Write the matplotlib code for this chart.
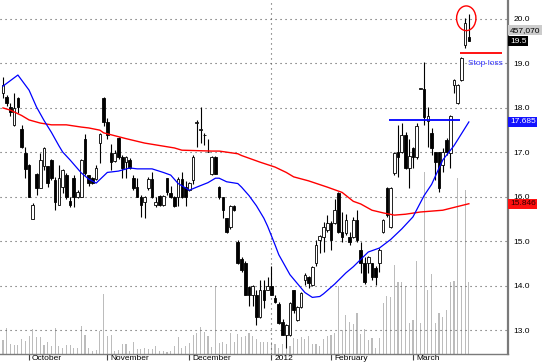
import numpy as np
import matplotlib
matplotlib.use('Agg')
import matplotlib.pyplot as plt
import matplotlib.transforms as mtransforms
from matplotlib.patches import Ellipse

plt.rcParams['font.family'] = ['Liberation Sans', 'DejaVu Sans']

# daily candles, late Sep 2011 .. mid Mar 2012
opens = [18.34, 18.25, 18.02, 17.62, 18.22, 17.53, 16.99, 16.72, 15.50, 16.51,
         16.20, 16.69, 16.69, 16.83, 16.38, 15.82, 16.22, 16.49, 15.91, 16.42,
         16.00, 16.00, 17.30, 16.49, 16.42, 16.40, 17.21, 18.22, 17.68, 16.99,
         16.81, 17.32, 16.90, 16.78, 16.83, 16.42, 16.22, 16.00, 15.89, 16.20,
         16.40, 15.82, 16.02, 15.82, 16.42, 16.09, 16.00, 16.00, 16.40, 16.22,
         16.15, 16.38, 17.66, 17.50, 17.39, 17.02, 16.51, 16.90, 16.22, 16.00,
         15.53, 15.32, 15.80, 14.99, 14.60, 14.51, 13.97, 13.79, 13.79, 13.30,
         13.91, 13.91, 14.00, 13.73, 13.59, 13.19, 12.89, 12.89, 13.91, 13.23,
         13.52, 14.13, 14.20, 14.02, 14.51, 15.03, 15.10, 15.26, 15.41, 15.41,
         16.09, 15.21, 15.19, 15.10, 15.10, 15.48, 14.81, 14.51, 14.51, 14.51,
         14.40, 14.51, 15.21, 16.20, 15.32, 16.54, 17.01, 17.01, 17.39, 16.65,
         17.10, 16.90, 18.43, 18.43, 17.71, 17.44, 17.01, 17.01, 16.72, 17.28,
         16.99, 18.52, 18.11, 18.63, 19.42, 19.60]
highs = [18.70, 18.30, 18.11, 18.34, 18.25, 17.62, 17.12, 16.75, 15.86, 16.54,
         16.99, 17.12, 16.69, 16.85, 16.45, 16.72, 16.63, 16.54, 16.00, 16.49,
         16.15, 16.85, 17.41, 16.50, 16.45, 16.72, 17.43, 18.25, 17.78, 17.20,
         17.05, 17.35, 16.95, 16.92, 16.88, 16.50, 16.42, 16.04, 16.02, 16.45,
         16.55, 16.00, 16.05, 16.05, 16.42, 16.25, 16.02, 16.45, 16.55, 16.35,
         16.33, 16.95, 17.73, 18.02, 17.44, 17.30, 16.92, 16.92, 16.25, 16.00,
         15.53, 15.82, 15.82, 15.03, 14.65, 14.55, 14.00, 14.02, 13.91, 14.13,
         14.13, 14.20, 14.45, 13.79, 13.64, 13.25, 13.14, 13.64, 13.91, 13.55,
         13.86, 14.29, 14.22, 14.45, 15.03, 15.14, 15.43, 15.60, 15.45, 15.95,
         16.11, 15.65, 15.62, 15.21, 15.55, 15.70, 14.99, 14.65, 14.67, 14.51,
         14.45, 14.85, 15.50, 16.22, 16.22, 17.01, 17.62, 17.65, 17.45, 17.30,
         17.12, 17.65, 18.44, 19.03, 18.02, 17.55, 17.01, 17.01, 17.10, 17.32,
         17.85, 18.65, 18.54, 19.14, 20.02, 20.11]
lows = [18.22, 18.05, 17.82, 17.60, 17.89, 17.10, 16.42, 16.00, 15.50, 16.04,
        16.20, 16.60, 16.22, 16.38, 15.70, 15.82, 16.09, 15.95, 15.78, 15.78,
        15.98, 16.00, 16.49, 16.25, 16.29, 16.38, 16.76, 17.60, 17.30, 16.60,
        16.78, 16.85, 16.42, 16.42, 16.62, 16.15, 16.00, 15.55, 15.53, 16.15,
        15.98, 15.78, 15.80, 15.80, 16.05, 15.98, 15.78, 15.80, 15.98, 15.80,
        16.13, 16.30, 17.12, 17.21, 17.17, 17.01, 16.49, 16.51, 15.95, 15.53,
        15.19, 15.28, 15.68, 14.49, 14.30, 13.79, 13.55, 13.55, 13.12, 13.28,
        13.50, 13.91, 13.79, 13.62, 13.14, 12.89, 12.60, 12.87, 13.40, 13.20,
        13.50, 14.02, 13.95, 14.00, 14.45, 14.74, 14.76, 15.20, 14.81, 15.38,
        15.19, 14.99, 15.14, 14.92, 15.08, 14.99, 14.29, 14.05, 14.29, 14.13,
        14.02, 14.30, 15.19, 15.55, 15.30, 16.49, 16.45, 16.99, 16.62, 16.20,
        16.65, 16.85, 18.42, 17.62, 17.12, 16.95, 16.38, 16.11, 16.55, 16.95,
        16.65, 18.34, 18.08, 18.60, 19.35, 19.50]
closes = [18.52, 18.11, 17.91, 18.00, 18.02, 17.12, 16.63, 16.00, 15.82, 16.20,
          16.83, 17.10, 16.31, 16.42, 15.89, 16.42, 16.60, 16.00, 15.82, 16.00,
          16.11, 16.83, 16.54, 16.31, 16.31, 16.65, 17.41, 17.68, 17.39, 16.78,
          16.99, 16.90, 16.65, 16.90, 16.65, 16.20, 16.00, 15.82, 16.00, 16.40,
          16.00, 15.89, 15.82, 16.02, 16.11, 16.00, 15.80, 16.40, 16.00, 16.00,
          16.31, 16.90, 17.68, 17.53, 17.40, 17.00, 16.90, 16.51, 16.00, 15.70,
          15.21, 15.80, 15.70, 14.51, 14.35, 13.79, 13.79, 14.00, 13.30, 13.91,
          13.68, 14.00, 13.79, 13.64, 13.16, 12.89, 13.12, 13.61, 13.46, 13.52,
          13.84, 14.24, 14.06, 14.42, 14.92, 15.12, 15.32, 15.41, 15.03, 15.70,
          15.21, 15.10, 15.48, 14.99, 15.48, 15.03, 14.51, 14.09, 14.65, 14.20,
          14.20, 14.81, 15.48, 15.59, 16.20, 16.99, 16.90, 17.39, 16.65, 16.92,
          16.90, 17.59, 18.43, 17.80, 17.82, 17.10, 16.78, 16.20, 17.01, 17.01,
          17.82, 18.63, 18.52, 19.12, 19.91, 19.50]

# volume in thousands of shares (last bar = 457,070)
volumes = [89, 165, 64, 57, 57, 95, 83, 114, 159, 108, 108, 57, 76, 51, 165, 51,
           38, 57, 57, 38, 38, 178, 121, 38, 19, 25, 146, 381, 114, 121, 19, 25,
           64, 64, 19, 76, 32, 32, 38, 32, 32, 51, 19, 19, 13, 19, 51, 108,
           38, 51, 70, 121, 133, 171, 140, 114, 44, 432, 70, 76, 64, 133, 76, 127,
           108, 114, 133, 114, 95, 76, 76, 76, 76, 64, 38, 64, 64, 51, 102, 95,
           108, 95, 114, 64, 64, 51, 95, 114, 121, 133, 432, 152, 248, 203, 191, 260,
           127, 159, 89, 102, 38, 102, 324, 368, 362, 565, 457, 457, 432, 197, 216, 591,
           197, 1156, 406, 508, 197, 260, 235, 279, 457, 464, 1118, 432, 1041, 457]

# 20-day (blue) and 50-day (red) moving averages, read at a few bars
sma20_idx = [0, 4, 7, 9, 11, 13, 15, 16, 18, 21, 23, 25, 27, 28, 31, 34, 36, 40,
             43, 45, 47, 50, 52, 55, 57, 58, 60, 63, 64, 66, 68, 70, 71, 73, 74,
             77, 79, 81, 83, 85, 86, 89, 92, 94, 98, 101, 104, 107, 110, 113,
             115, 118, 121, 125]
sma20_val = [18.49, 18.74, 18.40, 18.02, 17.72, 17.45, 17.15, 17.01, 16.83, 16.54,
             16.40, 16.31, 16.47, 16.55, 16.58, 16.65, 16.63, 16.63, 16.55, 16.49,
             16.30, 16.15, 16.22, 16.32, 16.42, 16.42, 16.34, 16.30, 16.22, 16.03,
             15.80, 15.52, 15.34, 14.92, 14.70, 14.25, 14.05, 13.85, 13.74, 13.76,
             13.82, 14.04, 14.29, 14.43, 14.76, 14.85, 15.04, 15.28, 15.55, 16.03,
             16.28, 16.83, 17.15, 17.685]
sma50_idx = [0, 2, 5, 7, 10, 13, 17, 21, 23, 26, 27, 33, 38, 46, 48, 56, 58, 63,
             64, 69, 73, 76, 78, 82, 87, 91, 94, 96, 99, 102, 105, 108, 112, 118, 125]
sma50_val = [18.00, 17.95, 17.83, 17.73, 17.66, 17.62, 17.62, 17.57, 17.55, 17.50,
             17.44, 17.31, 17.21, 17.10, 17.05, 17.03, 17.03, 16.97, 16.93, 16.78,
             16.67, 16.55, 16.45, 16.36, 16.22, 16.10, 15.90, 15.84, 15.70, 15.64,
             15.59, 15.61, 15.66, 15.70, 15.846]

month_idx = [7, 28, 50, 72, 88, 110]
month_lbl = ['October', 'November', 'December', '2012', 'February', 'March']
price_ticks = [13, 14, 15, 16, 17, 18, 19, 20]

resistance = 17.73
stop_loss = 19.235

o = np.array(opens)
h = np.array(highs)
l = np.array(lows)
c = np.array(closes)
x = np.arange(len(c))

fig = plt.figure(figsize=(5.5, 3.64), dpi=100)
rect = [0, 10 / 364, 508 / 550, 354 / 364]
ax_vol = fig.add_axes(rect)
ax = fig.add_axes(rect)
ax.patch.set_alpha(0)

ax_vol.bar(x, volumes, width=0.3, color='#bcbcbc', linewidth=0)
ax_vol.set_xlim(-0.8, 135.5)
ax_vol.set_ylim(0, 2247)
ax_vol.axis('off')

ax.set_xlim(-0.8, 135.5)
ax.set_ylim(12.467, 20.427)

for v in price_ticks:
    ax.axhline(v, color='#555555', lw=0.8, ls=(0, (1, 3.5)), zorder=1)
ax.axvline(month_idx[3], color='#555555', lw=0.8, ls=(0, (1, 3.5)), zorder=1)

# candles
up = c >= o
ax.vlines(x, l, h, color='black', lw=0.8, zorder=2)
body = np.maximum(np.abs(c - o), 0.01)
ax.bar(x, body, bottom=np.minimum(o, c), width=0.7,
       color=np.where(up, 'white', 'black'), edgecolor='black',
       linewidth=0.6, zorder=3)

# moving averages
ax.plot(sma50_idx, sma50_val, color='#ff0000', lw=1, zorder=4)
ax.plot(sma20_idx, sma20_val, color='#0000ff', lw=0.9, zorder=4)

# annotations
ax.hlines(resistance, 103.6, 122.7, color='#0000ff', lw=1.3, zorder=5)
ax.hlines(stop_loss, 122.7, 133.9, color='#ff0000', lw=1.3, zorder=5)
ax.text(124.8, 19.0, 'Stop loss', color='#3333ff', fontsize=6, va='center', ha='left')
ax.add_patch(Ellipse((124.3, 20.016), 5.18, 0.555, fill=False, ec='red', lw=1, zorder=6))

# axes styling
for side in ['left', 'top']:
    ax.spines[side].set_visible(False)
ax.spines['right'].set_color('#7a7a7a')
ax.spines['right'].set_linewidth(1.6)
ax.spines['bottom'].set_color('#7a7a7a')
ax.spines['bottom'].set_linewidth(1)

ax.yaxis.tick_right()
ax.set_yticks(price_ticks)
ax.set_yticklabels(['%.1f' % v for v in price_ticks])
ax.tick_params(axis='y', length=0, pad=4, labelsize=6)

ax.set_xticks(month_idx)
ax.set_xticklabels([])
ax.tick_params(axis='x', length=4, width=0.8, color='#444444', direction='out')
trans_x = mtransforms.blended_transform_factory(ax.transData, ax.transAxes)
for pos, lbl in zip(month_idx, month_lbl):
    ax.text(pos + 0.8, -0.004, lbl, transform=trans_x, fontsize=6, ha='left', va='top')

# value tags on the right axis
trans_y = mtransforms.blended_transform_factory(ax.transAxes, ax.transData)
tags = [
    ('457,070', 19.75, '#cccccc', 'black'),
    ('19.5', 19.50, 'black', 'white'),
    ('17.685', sma20_val[-1], '#1414ff', 'white'),
    ('15.846', sma50_val[-1], '#ff1010', '#300000'),
]
for txt, yv, bg, fg in tags:
    ax.text(1.004, yv, txt, transform=trans_y, fontsize=6, color=fg, ha='left', va='center',
            bbox=dict(boxstyle='square,pad=0.2', fc=bg, ec='none'), clip_on=False)

fig.savefig('out.png', dpi=100, facecolor='white')
